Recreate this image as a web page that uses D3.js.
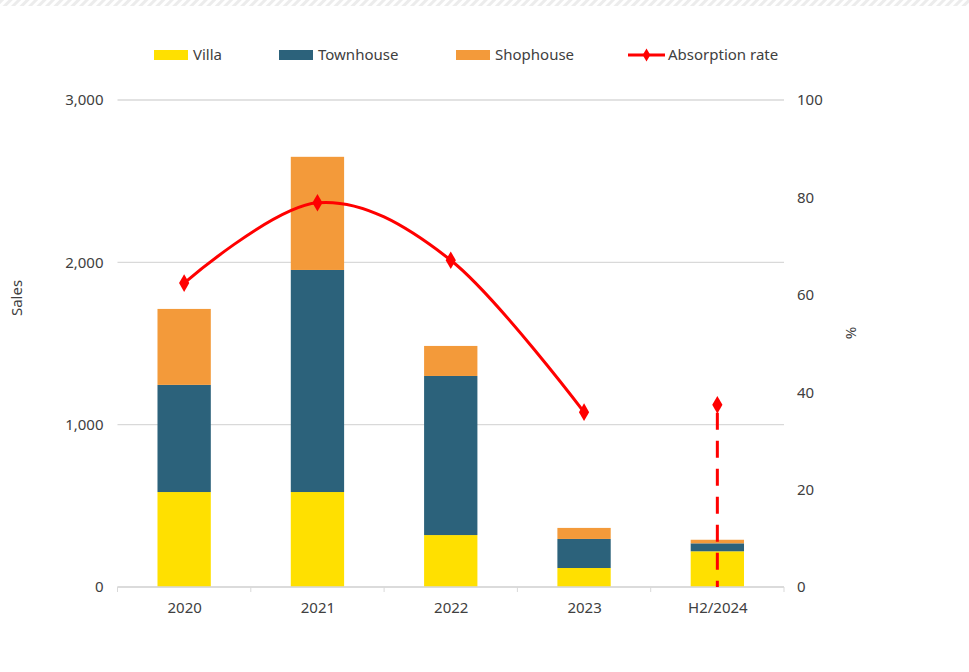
<!DOCTYPE html>
<head>
  <meta charset="utf-8">
  <script src="https://d3js.org/d3.v7.min.js"></script>
  <style>
    body { margin: 0; background: #fff; }
    text { font-family: "Noto Sans", sans-serif; fill: #404040; }
    .grid line { stroke: #d9d9d9; stroke-width: 1.3; }
    .axis path, .axis line { stroke: #d9d9d9; }
  </style>
</head>
<body>
<script>
  // chart data
  var years = ["2020", "2021", "2022", "2023", "H2/2024"];
  var villa = [585, 585, 320, 117, 220];
  var townhouse = [660, 1368, 980, 179, 49];
  var shophouse = [468, 697, 185, 68, 22];
  var absorption = [62.4, 78.9, 67.1, 35.9, 37.4];
  var salesTicks = [0, 1000, 2000, 3000];
  var pctTicks = [0, 20, 40, 60, 80, 100];

  var seriesNames = ["Villa", "Townhouse", "Shophouse"];
  var colors = { Villa: "#ffe000", Townhouse: "#2c627b", Shophouse: "#f39a3a" };

  var W = 969, H = 672;
  var plotLeft = 117.5, plotRight = 784, plotTop = 100, plotBottom = 587;
  var fs = "15px";

  var svg = d3.select("body").append("svg")
      .attr("width", W)
      .attr("height", H);

  // hatched strip along the top edge
  var pat = svg.append("defs").append("pattern")
      .attr("id", "hatch")
      .attr("width", 6).attr("height", 6)
      .attr("patternUnits", "userSpaceOnUse")
      .attr("patternTransform", "rotate(45)");
  pat.append("rect").attr("width", 3).attr("height", 6).attr("fill", "#ececec");
  svg.append("rect").attr("x", 0).attr("y", 0).attr("width", W).attr("height", 6)
      .attr("fill", "url(#hatch)");

  var x = d3.scaleBand().domain(years).range([plotLeft, plotRight]).paddingInner(0.6).paddingOuter(0.3);
  var xc = d3.scalePoint().domain(years).range([plotLeft, plotRight]).padding(0.5);
  var y = d3.scaleLinear().domain([0, 3000]).range([plotBottom, plotTop]);
  var y2 = d3.scaleLinear().domain([0, 100]).range([plotBottom, plotTop]);

  // gridlines
  svg.append("g").attr("class", "grid")
    .selectAll("line")
    .data(salesTicks)
    .enter().append("line")
      .attr("x1", plotLeft).attr("x2", plotRight)
      .attr("y1", function(d) { return y(d); })
      .attr("y2", function(d) { return y(d); });

  // left axis labels
  var yAxis = d3.axisLeft(y).tickValues(salesTicks).tickSize(0).tickPadding(14)
      .tickFormat(d3.format(","));
  svg.append("g")
      .attr("transform", "translate(" + plotLeft + ",0)")
      .call(yAxis)
      .call(function(g) { g.select(".domain").remove(); })
      .selectAll("text").style("font-size", fs).style("fill", "#404040");

  // right axis labels
  var y2Axis = d3.axisRight(y2).tickValues(pctTicks).tickSize(0).tickPadding(13);
  svg.append("g")
      .attr("transform", "translate(" + plotRight + ",0)")
      .call(y2Axis)
      .call(function(g) { g.select(".domain").remove(); })
      .selectAll("text").style("font-size", fs).style("fill", "#404040");

  // stacked bars
  var rows = years.map(function(d, i) {
    return { year: d, Villa: villa[i], Townhouse: townhouse[i], Shophouse: shophouse[i] };
  });
  var stacked = d3.stack().keys(seriesNames)(rows);

  svg.append("g").selectAll("g")
    .data(stacked)
    .enter().append("g")
      .attr("fill", function(s) { return colors[s.key]; })
    .selectAll("rect")
    .data(function(s) { return s; })
    .enter().append("rect")
      .attr("x", function(d) { return x(d.data.year); })
      .attr("width", x.bandwidth())
      .attr("y", function(d) { return y(d[1]); })
      .attr("height", function(d) { return y(d[0]) - y(d[1]); });

  // x axis with boundary ticks
  var bounds = d3.range(years.length + 1).map(function(i) {
    return plotLeft + i * (plotRight - plotLeft) / years.length;
  });
  var xAxisG = svg.append("g").attr("class", "axis");
  xAxisG.append("line").attr("x1", plotLeft).attr("x2", plotRight)
      .attr("y1", plotBottom).attr("y2", plotBottom).attr("stroke-width", 1.3);
  xAxisG.selectAll(".bt").data(bounds).enter().append("line")
      .attr("x1", function(d) { return d; }).attr("x2", function(d) { return d; })
      .attr("y1", plotBottom).attr("y2", plotBottom + 5);
  var xAxis = d3.axisBottom(xc).tickSize(0).tickPadding(15);
  svg.append("g")
      .attr("transform", "translate(0," + plotBottom + ")")
      .call(xAxis)
      .call(function(g) { g.select(".domain").remove(); })
      .selectAll("text").style("font-size", fs).style("fill", "#404040");

  // absorption rate: smooth line for 2020-2023, dashed drop for H2/2024
  var pts = years.map(function(d, i) { return [xc(d), y2(absorption[i])]; });
  var line = d3.line().curve(d3.curveCardinal.tension(0));
  svg.append("path")
      .attr("d", line(pts.slice(0, 4)))
      .attr("fill", "none")
      .attr("stroke", "#ff0000")
      .attr("stroke-width", 3);
  svg.append("line")
      .attr("x1", pts[4][0]).attr("x2", pts[4][0])
      .attr("y1", pts[4][1]).attr("y2", y2(0))
      .attr("stroke", "#ff0000")
      .attr("stroke-width", 3)
      .attr("stroke-dasharray", "17,11")
      .attr("stroke-dashoffset", -8);

  var diamond = d3.symbol().type(d3.symbolDiamond).size(90);
  svg.append("g").selectAll("path")
    .data(pts)
    .enter().append("path")
      .attr("transform", function(d) { return "translate(" + d[0] + "," + d[1] + ")"; })
      .attr("d", diamond)
      .attr("fill", "#ff0000");

  // axis titles
  svg.append("text")
      .attr("transform", "translate(22,298) rotate(-90)")
      .attr("text-anchor", "middle")
      .style("font-size", fs)
      .text("Sales");
  svg.append("text")
      .attr("transform", "translate(846,333) rotate(90)")
      .attr("text-anchor", "middle")
      .style("font-size", fs)
      .text("%");

  // legend
  var legend = [
    { name: "Villa", x: 154, type: "rect" },
    { name: "Townhouse", x: 279, type: "rect" },
    { name: "Shophouse", x: 456, type: "rect" },
    { name: "Absorption rate", x: 628, type: "line" }
  ];
  var lg = svg.append("g").selectAll("g")
    .data(legend)
    .enter().append("g")
      .attr("transform", function(d) { return "translate(" + d.x + ",55)"; });
  lg.filter(function(d) { return d.type === "rect"; }).append("rect")
      .attr("y", -5).attr("width", 34).attr("height", 10)
      .attr("fill", function(d) { return colors[d.name]; });
  var ll = lg.filter(function(d) { return d.type === "line"; });
  ll.append("line").attr("x1", 0).attr("x2", 37).attr("stroke", "#ff0000").attr("stroke-width", 3);
  ll.append("path").attr("transform", "translate(18.5,0)")
      .attr("d", d3.symbol().type(d3.symbolDiamond).size(50)).attr("fill", "#ff0000");
  lg.append("text")
      .attr("x", function(d) { return d.type === "rect" ? 39 : 40; })
      .attr("dy", "0.35em")
      .style("font-size", fs)
      .text(function(d) { return d.name; });
</script>
</body>
